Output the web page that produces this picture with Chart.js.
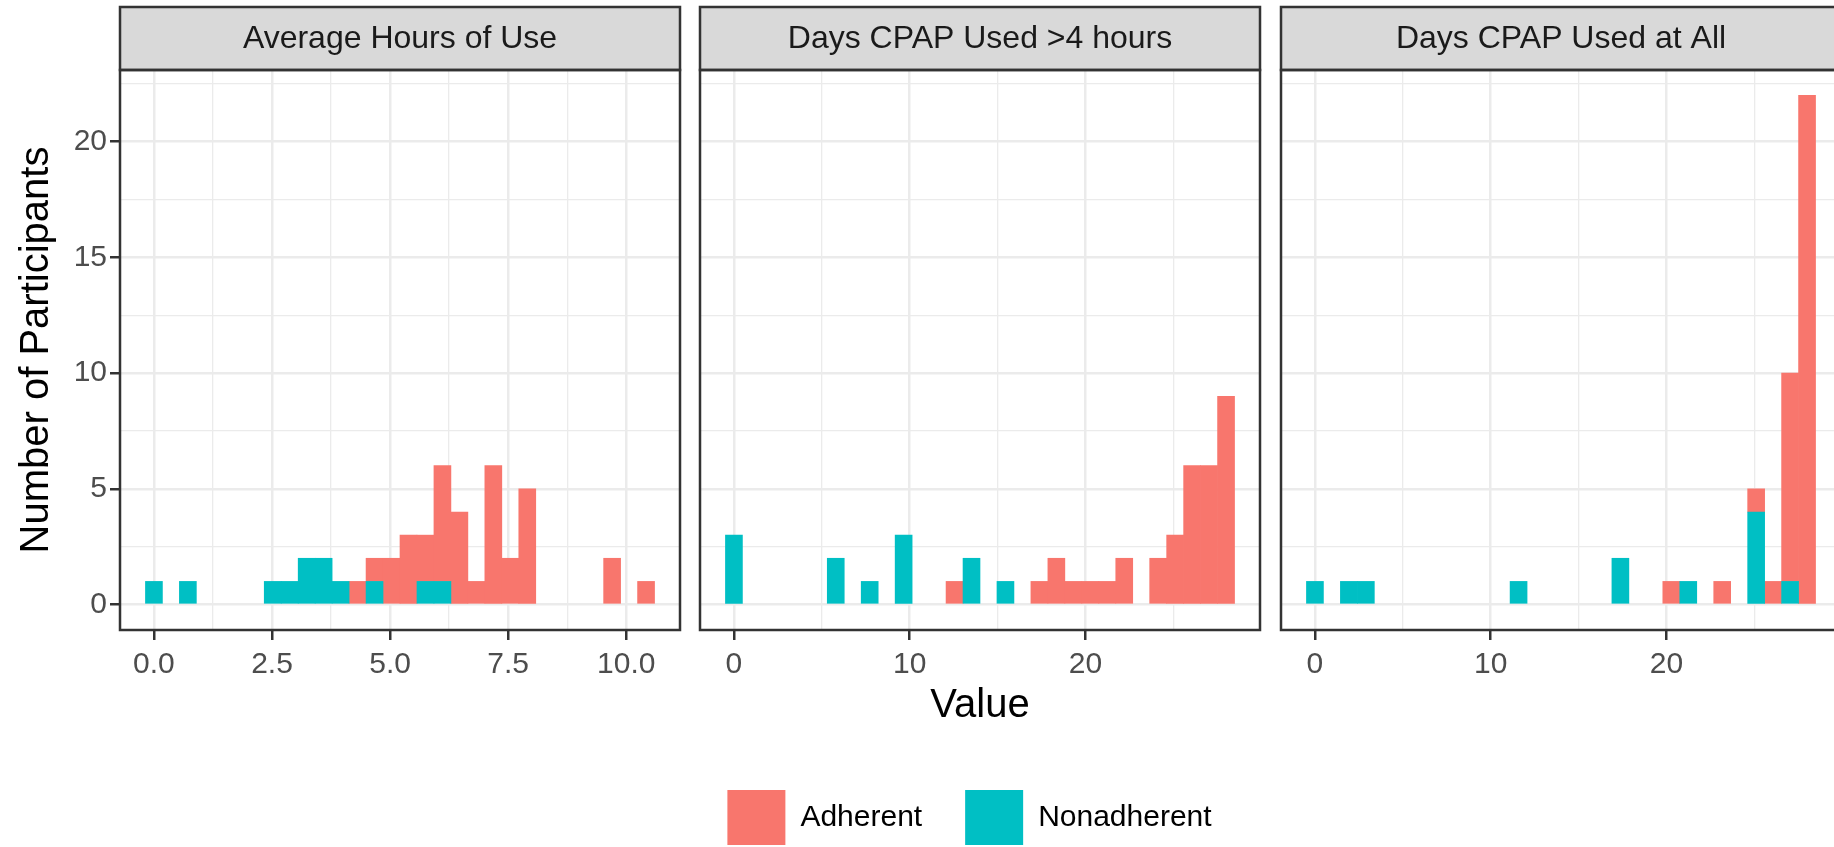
<!DOCTYPE html>
<html>
<head>
<meta charset="utf-8">
<script src="https://cdn.jsdelivr.net/npm/chart.js@4.4.1/dist/chart.umd.min.js"></script>
<style>
  html, body { margin: 0; padding: 0; background: #fff; }
  body { width: 1834px; height: 847px; overflow: hidden; position: relative; }
  canvas { position: absolute; top: 0; }
</style>
</head>
<body>
<canvas id="c1" width="684" height="700" style="left:0px"></canvas>
<canvas id="c2" width="585" height="855" style="left:679px"></canvas>
<canvas id="c3" width="585" height="700" style="left:1260px"></canvas>
<script>
(function () {
  'use strict';

  // --- data: counts per histogram bin (30 bins per facet) ---
  const binCount = 30;
  const hoursMax = 10.42;   // centre of last bin, hours
  const daysMax = 28;       // centre of last bin, days

  const hoursAdherent    = [0,0,0,0,0,0,0,0,0,0,0,0,1,1,2,3,2,5,4,1,6,2,5,0,0,0,0,2,0,1];
  const hoursNonadherent = [1,0,1,0,0,0,0,1,1,2,2,1,0,1,0,0,1,1,0,0,0,0,0,0,0,0,0,0,0,0];

  const over4Adherent    = [0,0,0,0,0,0,0,0,0,0,0,0,0,1,0,0,0,0,1,2,1,1,1,2,0,2,3,6,6,9];
  const over4Nonadherent = [3,0,0,0,0,0,2,0,1,0,3,0,0,0,2,0,1,0,0,0,0,0,0,0,0,0,0,0,0,0];

  const anyAdherent      = [0,0,0,0,0,0,0,0,0,0,0,0,0,0,0,0,0,0,0,0,0,1,0,0,1,0,1,1,9,22];
  const anyNonadherent   = [1,0,1,1,0,0,0,0,0,0,0,0,1,0,0,0,0,0,2,0,0,0,1,0,0,0,4,0,1,0];

  const facetTitles = ['Average Hours of Use', 'Days CPAP Used >4 hours', 'Days CPAP Used at All'];
  const groupNames = ['Adherent', 'Nonadherent'];

  const hoursTicks  = [0, 2.5, 5, 7.5, 10];
  const hoursLabels = ['0.0', '2.5', '5.0', '7.5', '10.0'];
  const hoursMinor  = [1.25, 3.75, 6.25, 8.75];
  const daysTicks   = [0, 10, 20];
  const daysLabels  = ['0', '10', '20'];
  const daysMinor   = [5, 15, 25];
  const countTicks  = [0, 5, 10, 15, 20];
  const countLabels = ['0', '5', '10', '15', '20'];
  const countMinor  = [2.5, 7.5, 12.5, 17.5, 22.5];

  const colAdherent = '#F8766D';
  const colNonadherent = '#00BFC4';
  const FONT = '"Liberation Sans", Arial, Helvetica, sans-serif';

  // strip + panel border like theme_bw
  const facetPlugin = {
    id: 'facet',
    afterDraw(chart, args, opts) {
      const ctx = chart.ctx;
      const a = chart.chartArea;
      const stripTop = 7;
      ctx.save();
      ctx.fillStyle = '#D9D9D9';
      ctx.fillRect(a.left, stripTop, a.right - a.left, a.top - stripTop);
      ctx.strokeStyle = '#333333';
      ctx.lineWidth = 2.5;
      ctx.strokeRect(a.left, stripTop, a.right - a.left, a.top - stripTop);
      ctx.strokeRect(a.left, a.top, a.right - a.left, a.bottom - a.top);
      ctx.fillStyle = '#1A1A1A';
      ctx.font = '32px ' + FONT;
      ctx.textAlign = 'center';
      ctx.textBaseline = 'middle';
      ctx.fillText(opts.title, (a.left + a.right) / 2, (stripTop + a.top) / 2 + 1);
      ctx.restore();
    }
  };

  function binned(counts, max) {
    const w = max / (binCount - 1);
    return counts.map((c, i) => ({ x: i * w, y: c === 0 ? null : c }));
  }

  function expandRange(max) {
    const w = max / (binCount - 1);
    const lo = -w / 2, hi = max + w / 2;
    const pad = (hi - lo) * 0.05;
    return [lo - pad, hi + pad];
  }

  function gridScale(majors, labels, minors) {
    const isMajor = v => majors.some(m => Math.abs(m - v) < 1e-9);
    return {
      afterBuildTicks: axis => {
        axis.ticks = majors.concat(minors).sort((p, q) => p - q).map(v => ({ value: v }));
      },
      callback: function (value) {
        const i = majors.findIndex(m => Math.abs(m - value) < 1e-9);
        return i >= 0 ? labels[i] : '';
      },
      gridColor: '#EBEBEB',
      lineWidth: ctx => (ctx.tick && isMajor(ctx.tick.value)) ? 2.5 : 1.3,
      tickColor: ctx => (ctx.tick && isMajor(ctx.tick.value)) ? '#333333' : 'rgba(0,0,0,0)'
    };
  }

  function makeChart(id, opt) {
    const xr = expandRange(opt.max);
    const xg = gridScale(opt.ticks, opt.labels, opt.minor);
    const yg = gridScale(countTicks, countLabels, countMinor);
    const canvas = document.getElementById(id);
    return new Chart(canvas.getContext('2d'), {
      type: 'bar',
      data: {
        datasets: [{
          label: groupNames[1],
          data: binned(opt.non, opt.max),
          backgroundColor: colNonadherent
        }, {
          label: groupNames[0],
          data: binned(opt.adh, opt.max),
          backgroundColor: colAdherent
        }]
      },
      options: {
        responsive: false,
        animation: false,
        devicePixelRatio: 1,
        barPercentage: 1,
        categoryPercentage: 1,
        borderWidth: 0,
        layout: { padding: { top: 70, right: 4, left: 0, bottom: 0 } },
        plugins: {
          facet: { title: opt.title },
          tooltip: { enabled: false },
          legend: {
            display: !!opt.legend,
            position: 'bottom',
            reverse: true,
            labels: {
              boxWidth: 58,
              boxHeight: 55,
              padding: 43,
              color: '#000000',
              font: { family: FONT, size: 30 }
            }
          }
        },
        scales: {
          x: {
            type: 'linear',
            stacked: true,
            offset: false,
            min: xr[0],
            max: xr[1],
            afterBuildTicks: xg.afterBuildTicks,
            afterFit: s => { s.height = opt.xHeight; },
            border: { display: false },
            grid: {
              offset: false,
              color: xg.gridColor,
              lineWidth: xg.lineWidth,
              tickColor: xg.tickColor,
              tickWidth: 2.5,
              tickLength: 10,
              drawTicks: true
            },
            ticks: {
              autoSkip: false,
              maxRotation: 0,
              padding: 7,
              color: '#4D4D4D',
              font: { family: FONT, size: 30 },
              callback: xg.callback
            },
            title: {
              display: !!opt.xTitle,
              text: opt.xTitle || '',
              color: '#000000',
              font: { family: FONT, size: 40, lineHeight: 1 },
              padding: { top: 0, bottom: 21 }
            }
          },
          y: {
            type: 'linear',
            stacked: true,
            min: -1.1,
            max: 23.1,
            afterBuildTicks: yg.afterBuildTicks,
            afterFit: s => { s.width = opt.yWidth; },
            border: { display: false },
            grid: {
              color: yg.gridColor,
              lineWidth: yg.lineWidth,
              tickColor: opt.yLabels ? yg.tickColor : 'rgba(0,0,0,0)',
              tickWidth: 2.5,
              tickLength: 10,
              drawTicks: true
            },
            ticks: {
              display: !!opt.yLabels,
              autoSkip: false,
              padding: 3,
              color: '#4D4D4D',
              font: { family: FONT, size: 30 },
              callback: yg.callback
            },
            title: {
              display: !!opt.yLabels,
              text: 'Number of Participants',
              color: '#000000',
              font: { family: FONT, size: 40, lineHeight: 1 },
              padding: { top: 17, bottom: 0 }
            }
          }
        }
      },
      plugins: [facetPlugin]
    });
  }

  makeChart('c1', {
    title: facetTitles[0], max: hoursMax, adh: hoursAdherent, non: hoursNonadherent,
    ticks: hoursTicks, labels: hoursLabels, minor: hoursMinor,
    yWidth: 120, xHeight: 70, yLabels: true
  });
  makeChart('c2', {
    title: facetTitles[1], max: daysMax, adh: over4Adherent, non: over4Nonadherent,
    ticks: daysTicks, labels: daysLabels, minor: daysMinor,
    yWidth: 21, xHeight: 117, legend: true, xTitle: 'Value'
  });
  makeChart('c3', {
    title: facetTitles[2], max: daysMax, adh: anyAdherent, non: anyNonadherent,
    ticks: daysTicks, labels: daysLabels, minor: daysMinor,
    yWidth: 21, xHeight: 70
  });
})();
</script>
</body>
</html>
